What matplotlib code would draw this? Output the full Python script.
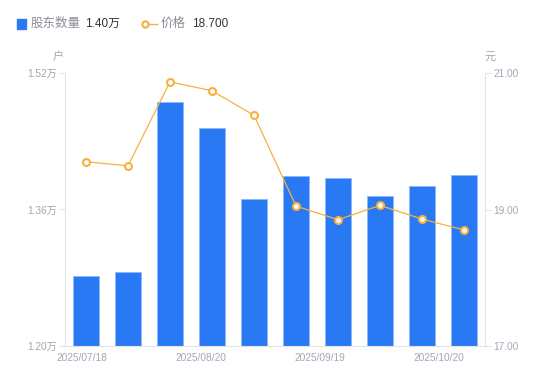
import matplotlib.pyplot as plt
import numpy as np

plt.rcParams['font.family'] = ['Liberation Sans', 'Noto Sans CJK SC', 'DejaVu Sans']

# data
dates = ["2025/07/18", "2025/07/31", "2025/08/10", "2025/08/20", "2025/08/31",
         "2025/09/10", "2025/09/19", "2025/09/30", "2025/10/10", "2025/10/20"]
holders = [1.282, 1.287, 1.486, 1.456, 1.372, 1.399, 1.397, 1.376, 1.387, 1.400]  # 万户
price = [19.70, 19.64, 20.87, 20.74, 20.38, 19.05, 18.85, 19.06, 18.86, 18.70]
date_labels = ["2025/07/18", "2025/08/20", "2025/09/19", "2025/10/20"]

blue = "#2979f5"
orange = "#f7b13f"
grey = "#a3a6b4"
axcol = "#e3e4e8"

fig = plt.figure(figsize=(5.5, 3.81), dpi=100)
ax = fig.add_axes([65 / 550, 35 / 381, 420 / 550, 273 / 381])
ax2 = ax.twinx()

x = np.arange(len(holders))
ax.bar(x, holders, width=0.6, color=blue, edgecolor="#8db8fa", linewidth=0.6, zorder=2)
ax.set_xlim(-0.5, len(holders) - 0.5)
ax.set_ylim(1.20, 1.52)
ax.set_yticks([1.20, 1.36, 1.52])
ax.set_yticklabels(["1.20万", "1.36万", "1.52万"])

ax2.plot(x, price, color=orange, lw=0.9, marker="o", ms=5, mfc="white",
         mec=orange, mew=1.5, zorder=3)
ax2.set_ylim(17, 21)
ax2.set_yticks([17, 19, 21])
ax2.set_yticklabels(["17.00", "19.00", "21.00"])

ax.set_xticks(np.linspace(-0.1, 8.4, 4))
ax.set_xticklabels(date_labels)

for a in (ax, ax2):
    for s in a.spines.values():
        s.set_visible(False)
    a.tick_params(axis="both", colors=axcol, labelcolor=grey, labelsize=7.3,
                  length=4, width=0.8, pad=2)
ax.tick_params(axis="x", length=0, pad=5)
ax.spines["left"].set_visible(True)
ax.spines["left"].set_color(axcol)
ax.spines["bottom"].set_visible(True)
ax.spines["bottom"].set_color(axcol)
ax2.spines["right"].set_visible(True)
ax2.spines["right"].set_color(axcol)

# axis units
fig.text(58 / 550, 1 - 57 / 381, "户", color=grey, fontsize=8, ha="center", va="center")
fig.text(490 / 550, 1 - 57 / 381, "元", color=grey, fontsize=8, ha="center", va="center")

# legend row
ly = 1 - 24 / 381
fig.patches.append(plt.Rectangle((17 / 550, ly - 5 / 381), 9 / 550, 10 / 381,
                                 transform=fig.transFigure, color=blue, figure=fig))
fig.text(31 / 550, ly, "股东数量", color="#8a8d99", fontsize=9, va="center")
fig.text(85 / 550, ly, "%.2f万" % holders[-1], color="#333333", fontsize=8.5, va="center")
fig.add_artist(plt.Line2D([145 / 550, 157 / 550], [ly, ly], transform=fig.transFigure,
                          color=orange, lw=1, marker="o", ms=4.5, mfc="white",
                          mec=orange, mew=1.5, markevery=[0]))
fig.text(161 / 550, ly, "价格", color="#8a8d99", fontsize=9, va="center")
fig.text(192 / 550, ly, "%.3f" % price[-1], color="#333333", fontsize=8.5, va="center")

fig.savefig("out.png", dpi=100)
